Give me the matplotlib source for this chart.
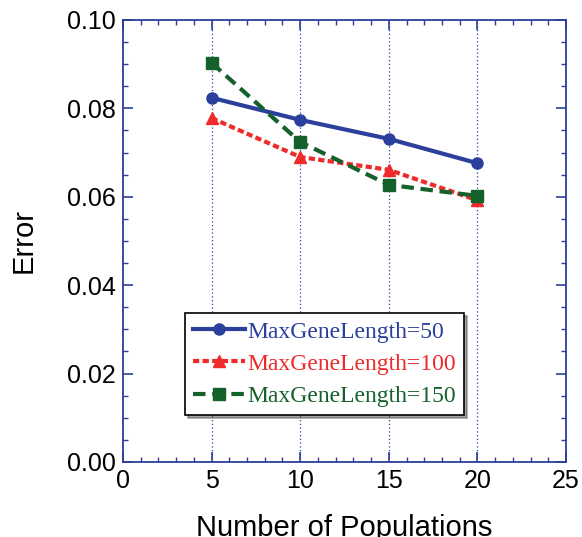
import numpy as np
import matplotlib.pyplot as plt
from matplotlib.ticker import MultipleLocator

populations = [5, 10, 15, 20]
err_50 = [0.0824, 0.0774, 0.0731, 0.0676]
err_100 = [0.0778, 0.0690, 0.0661, 0.0592]
err_150 = [0.0903, 0.0724, 0.0627, 0.0602]
labels = ['MaxGeneLength=50', 'MaxGeneLength=100', 'MaxGeneLength=150']

blue = '#2b3f9c'
red = '#ee2a2a'
green = '#15612c'
axcol = '#2b3f9c'

plt.rcParams['font.family'] = ['Liberation Sans', 'DejaVu Sans']

fig = plt.figure(figsize=(5.82, 5.37), dpi=100)
ax = fig.add_axes([0.2113, 0.1397, 0.7612, 0.8231])

for xv in populations:
    ax.axvline(xv, color=axcol, lw=0.9, ls=(0, (1, 2)), zorder=1)

l1, = ax.plot(populations, err_50, color=blue, lw=3, marker='o', ms=8,
              label=labels[0], zorder=3)
l2, = ax.plot(populations, err_100, color=red, lw=3, ls=(0, (1.5, 0.8)),
              marker='^', ms=9, label=labels[1], zorder=3)
l3, = ax.plot(populations, err_150, color=green, lw=3, ls=(0, (3, 1.6)),
              marker='s', ms=8, label=labels[2], zorder=3)

ax.set_xlim(0, 25)
ax.set_ylim(0, 0.10)
ax.xaxis.set_major_locator(MultipleLocator(5))
ax.xaxis.set_minor_locator(MultipleLocator(1))
ax.yaxis.set_major_locator(MultipleLocator(0.02))
ax.yaxis.set_minor_locator(MultipleLocator(0.005))
ax.yaxis.set_major_formatter(plt.FormatStrFormatter('%.2f'))
ax.tick_params(which='both', direction='in', top=True, right=True,
               color=axcol, labelsize=18, pad=5)
ax.tick_params(which='major', length=7, width=1.2)
ax.tick_params(which='minor', length=3.5, width=1)
for s in ax.spines.values():
    s.set_color(axcol)
    s.set_linewidth(1.3)

ax.set_xlabel('Number of Populations', fontsize=21, labelpad=15)
ax.set_ylabel('Error', fontsize=21, labelpad=21)

leg = ax.legend(handles=[l1, l2, l3], loc='lower left',
                bbox_to_anchor=(0.14, 0.106), fancybox=False, shadow=True,
                edgecolor='black', framealpha=1, handlelength=2.2,
                handletextpad=0.1, borderpad=0.35, labelspacing=0.45,
                borderaxespad=0,
                prop={'family': 'Liberation Serif', 'size': 17})
leg.get_frame().set_linewidth(1.2)
for t, c in zip(leg.get_texts(), [blue, red, green]):
    t.set_color(c)

fig.savefig('out.png', dpi=100)
